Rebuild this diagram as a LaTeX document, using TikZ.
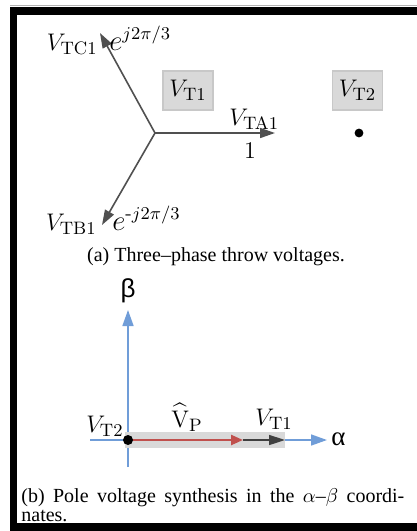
\documentclass[tikz,border=0pt]{standalone}
\usepackage[no-math]{fontspec}
\usepackage{amsmath}
\usetikzlibrary{arrows.meta}
\newfontfamily\capfont{Liberation Serif}
\newfontfamily\greekserif{Liberation Serif}
\newfontfamily\greeksans{Liberation Sans}
\definecolor{axisblue}{RGB}{112,157,216}
\definecolor{vpred}{RGB}{192,80,77}
\definecolor{phasorgray}{RGB}{80,80,80}
\definecolor{darkvec}{RGB}{64,64,64}
\definecolor{boxgray}{RGB}{217,217,217}
\definecolor{boxedge}{RGB}{200,200,200}

\begin{document}
\begin{tikzpicture}[x=0.5pt, y=-0.5pt,
  lbl/.style={font=\fontsize{12.5}{14}\selectfont, inner sep=0pt},
  explbl/.style={font=\fontsize{13.5}{15}\selectfont, inner sep=0pt},
  capt/.style={font=\capfont\fontsize{10}{9.6}\selectfont, inner sep=0pt},
  tbox/.style={draw=boxedge, fill=boxgray, line width=0.6pt, minimum width=25pt, minimum height=19.5pt, inner sep=0pt, font=\fontsize{12.5}{14}\selectfont},
  phasor/.style={-{Triangle[length=7.5pt,width=5pt]}, draw=phasorgray, line width=0.8pt},
  axis/.style={-{Triangle[length=8pt,width=5.5pt]}, draw=axisblue, line width=0.8pt},
  vparrow/.style={-{Triangle[length=6pt,width=5pt]}, draw=vpred, line width=1.2pt},
  t1arrow/.style={-{Triangle[length=8pt,width=5pt]}, draw=darkvec, line width=0.8pt},
  band/.style={fill=boxgray, draw=none, minimum width=80pt, minimum height=8pt, inner sep=0pt},
  dotnode/.style={circle, fill=black, draw=none, inner sep=0pt}
]
\useasboundingbox (0,0) rectangle (417,531);

% frame
\draw[black!30, line width=0.5pt] (10,5.5) -- (417,5.5);
\fill[black] (10,7) rectangle (16.5,531);
\fill[black] (10,7) rectangle (417,15);
\fill[black] (10,523) rectangle (417,531);

% (a) three-phase throw voltages
\coordinate (o) at (155,133);
\coordinate (tipA) at (275,133);
\coordinate (tipC) at (100,33);
\coordinate (tipB) at (102,225);

\draw[phasor] (o) -- (tipA);
\draw[phasor] (o) -- (tipC);
\draw[phasor] (o) -- (tipB);

\node[lbl, anchor=base east] (vtc1) at (98,50) {$V_{\mathrm{TC1}}$};
\node[explbl, anchor=base west] (ejc) at (109,50) {$e^{j2\pi/3}$};
\node[lbl, anchor=base east] (vtb1) at (97,230) {$V_{\mathrm{TB1}}$};
\node[explbl, anchor=base west] (ejb) at (112,230) {$e^{\text{-}j2\pi/3}$};
\node[lbl, anchor=base west] (vta1) at (229,125) {$V_{\mathrm{TA1}}$};
\node[lbl, anchor=base] (one) at (250,158) {$1$};

\node[tbox] (vt1box) at (188,90.5) {$V_{\mathrm{T1}}$};
\node[tbox] (vt2box) at (357.5,90.5) {$V_{\mathrm{T2}}$};
\node[dotnode, minimum size=4.4pt] (dotT2) at (359,133) {};

\node[capt, anchor=base] (capA) at (216,261) {(a) Three–phase throw voltages.};

% (b) pole voltage synthesis
\coordinate (betaLow) at (128,467);
\coordinate (betaTip) at (128,310);
\coordinate (alphaLow) at (90,440);
\coordinate (alphaTip) at (327,440);
\coordinate (vpTip) at (243,440);
\coordinate (vt1Tip) at (285,440);

\draw[axis] (betaLow) -- (betaTip);
\draw[axis] (alphaLow) -- (alphaTip);
\node[band] (bandT) at (205,440) {};
\draw[t1arrow] (vpTip) -- (vt1Tip);
\draw[vparrow] (128,440) -- (vpTip);
\node[dotnode, minimum size=5pt] (org) at (128,440) {};

\node[anchor=base, inner sep=0pt, font=\greeksans\fontsize{13}{14}\selectfont] (betaLbl) at (128,297) {β};
\node[anchor=base west, inner sep=0pt, font=\greekserif\fontsize{13.5}{14}\selectfont] (alphaLbl) at (331,445) {α};
\node[lbl, anchor=base east] (vt2lbl) at (124,432) {$V_{\mathrm{T2}}$};
\node[lbl, anchor=base west] (vplbl) at (171,427) {$\widehat{\mathrm{V}}_{\mathrm{P}}$};
\node[lbl, anchor=base west] (vt1lbl) at (255,425) {$V_{\mathrm{T1}}$};

\node[capt, anchor=north west, text width=191.5pt, align=justify] (capB) at (21,488.5)
  {(b) Pole voltage synthesis in the $\alpha$–$\beta$ coordi-\linebreak nates.};
\end{tikzpicture}
\end{document}
